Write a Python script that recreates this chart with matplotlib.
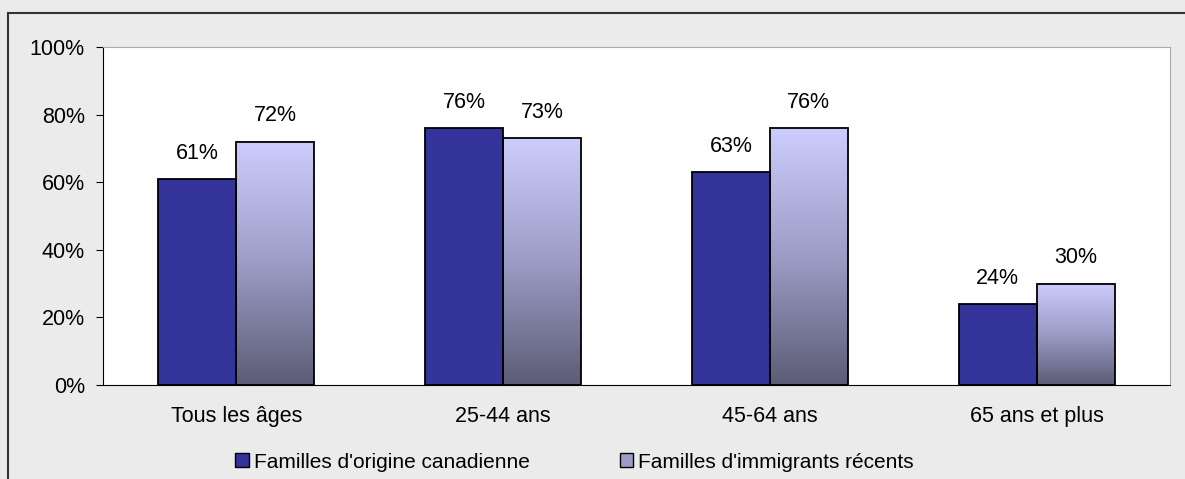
import numpy as np
import matplotlib.pyplot as plt
from matplotlib.colors import LinearSegmentedColormap
from matplotlib.patches import Rectangle, Patch

categories = ["Tous les âges", "25-44 ans", "45-64 ans", "65 ans et plus"]
canadiens = [61, 76, 63, 24]
immigrants = [72, 73, 76, 30]
series_names = ["Familles d'origine canadienne", "Familles d'immigrants récents"]

plt.rcParams["font.family"] = ["Liberation Sans", "DejaVu Sans"]

fig = plt.figure(figsize=(11.85, 4.79), dpi=100, facecolor="#ebebeb")
ax = fig.add_axes([103 / 1185, 1 - 385 / 479, 1067 / 1185, 338 / 479])
ax.set_facecolor("white")

# outer chart frame (cropped on right and bottom)
fig.add_artist(Rectangle((8 / 1185, -0.1), 1.2, 1 - 13 / 479 + 0.1,
                         transform=fig.transFigure, fill=False,
                         edgecolor="#333333", linewidth=1.5))

x = np.arange(len(categories))
w = 0.292
bars1 = ax.bar(x - w / 2, canadiens, w, color="#333399", edgecolor="black",
               linewidth=1.3, label=series_names[0], zorder=3)
bars2 = ax.bar(x + w / 2, immigrants, w, color="none", edgecolor="black",
               linewidth=1.3, label=series_names[1], zorder=3)

cmap = LinearSegmentedColormap.from_list("grad", ["#5c5c76", "#9c9cc6", "#cdcdfd"])
grad = np.linspace(0, 1, 256).reshape(-1, 1)
for b in bars2:
    ax.imshow(grad, cmap=cmap, origin="lower", aspect="auto", zorder=2,
              extent=[b.get_x(), b.get_x() + b.get_width(), 0, b.get_height()])

for b, v in zip(list(bars1) + list(bars2), canadiens + immigrants):
    ax.annotate(f"{v}%", (b.get_x() + b.get_width() / 2, v), xytext=(0, 11),
                textcoords="offset points", ha="center", va="bottom", fontsize=15.5)

ax.set_xlim(-0.5, 3.5)
ax.set_ylim(0, 100)
ax.set_yticks(range(0, 101, 20))
ax.set_yticklabels([f"{t}%" for t in range(0, 101, 20)], fontsize=15.5)
ax.set_xticks(x)
ax.set_xticklabels(categories, fontsize=15.5)
ax.tick_params(axis="x", length=0, pad=15)
ax.tick_params(axis="y", direction="out", length=5, pad=8, color="black")
for s in ["top", "right"]:
    ax.spines[s].set_color("#aaaaaa")
for s in ["left", "bottom"]:
    ax.spines[s].set_color("black")

handles = [Patch(facecolor="#333399", edgecolor="black"),
           Patch(facecolor="#9c9cc6", edgecolor="black")]
fig.legend(handles, series_names, loc="center", bbox_to_anchor=(0.485, 1 - 462 / 479),
           ncol=2, frameon=False, fontsize=15, handlelength=0.65, handleheight=0.65,
           handletextpad=0.25, columnspacing=4.3)

fig.savefig("out.png", dpi=100, facecolor=fig.get_facecolor())
